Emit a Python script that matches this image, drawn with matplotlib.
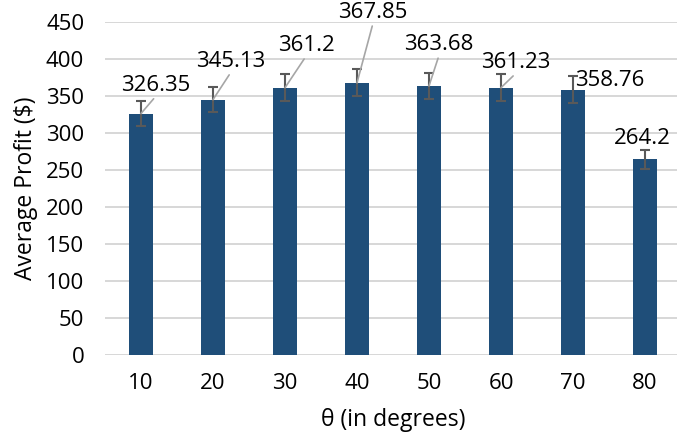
import matplotlib
matplotlib.use("Agg")
import matplotlib.pyplot as plt
import numpy as np

categories = ["10", "20", "30", "40", "50", "60", "70", "80"]
profits = [326.35, 345.13, 361.2, 367.85, 363.68, 361.23, 358.76, 264.2]
errors = [16.5, 17, 18, 18.5, 18, 18, 18, 13.5]
label_texts = ["326.35", "345.13", "361.2", "367.85", "363.68", "361.23", "358.76", "264.2"]
y_ticks = [0, 50, 100, 150, 200, 250, 300, 350, 400, 450]

# label offsets in pixels (layout)
label_offsets = [(15, 28), (18, 38), (21, 42), (16, 70), (10, 41), (15, 25), (37, 9), (-3, 21)]
leader = [True, True, True, True, True, True, False, False]

plt.rcParams['font.family'] = ['Open Sans', 'DejaVu Sans']

fig = plt.figure(figsize=(6.77, 4.40), dpi=100)
ax = fig.add_axes([105/677, 1 - 355/440, (681 - 105)/677, (355 - 22)/440])

x = np.arange(len(categories))
ax.bar(x, profits, width=0.32, color="#1F4E79", zorder=3)
ax.errorbar(x, profits, yerr=errors, fmt="none", ecolor="#595959", elinewidth=1.5,
            capsize=3.5, capthick=1.5, zorder=4)

ax.set_xlim(-0.5, len(categories) - 0.5)
ax.set_ylim(0, 450)
ax.set_yticks(y_ticks)
ax.set_xticks(x)
ax.set_xticklabels(categories)
ax.tick_params(axis="both", length=0, labelsize=16, colors="#000000")
ax.tick_params(axis="y", pad=15)
ax.tick_params(axis="x", pad=13)
ax.yaxis.grid(True, color="#D4D4D4", linewidth=1.3, zorder=0)
ax.set_axisbelow(True)
for s in ax.spines.values():
    s.set_visible(False)

ax.set_ylabel("Average Profit ($)", fontsize=16.5, labelpad=6)
ax.set_xlabel("θ (in degrees)", fontsize=16.5, labelpad=10)

for i, (v, t, off, ld) in enumerate(zip(profits, label_texts, label_offsets, leader)):
    props = None
    if ld:
        props = dict(arrowstyle="-", color="#A6A6A6", lw=1.2, shrinkA=0, shrinkB=0,
                     relpos=(0.5, 0.0))
    ax.annotate(t, xy=(x[i], v), xytext=off, textcoords="offset pixels",
                ha="center", va="center", fontsize=16, arrowprops=props, zorder=5,
                annotation_clip=False)

fig.savefig("out.png", dpi=100)
